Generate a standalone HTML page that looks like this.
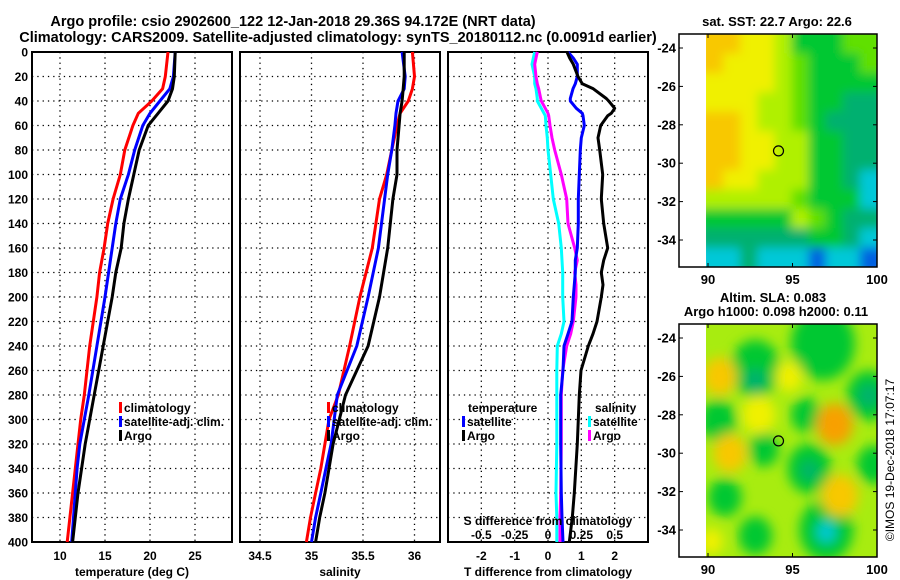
<!DOCTYPE html>
<html><head><meta charset="utf-8"><style>
html,body{margin:0;padding:0;background:#fff;}
svg{display:block;font-family:"Liberation Sans",sans-serif;font-weight:bold;}
</style></head><body>
<svg id="fig" width="900" height="580" viewBox="0 0 900 580" xmlns="http://www.w3.org/2000/svg">
<text x="293" y="26" font-size="14.5" text-anchor="middle">Argo profile: csio 2902600_122 12-Jan-2018 29.36S 94.172E (NRT data)</text>
<text x="338" y="42" font-size="14.5" text-anchor="middle">Climatology: CARS2009. Satellite-adjusted climatology: synTS_20180112.nc (0.0091d earlier)</text>
<g id="g"></g>
</svg>
<script>
// depth levels (m)
const tDepth=[0,20,30,40,50,60,80,100,120,140,160,180,200,240,280,300,320,340,360,400];
const tClim=[22.0,21.7,21.4,20.2,18.7,18.1,17.2,16.7,15.9,15.3,14.9,14.4,14.1,13.3,12.7,12.3,12.0,11.7,11.4,10.8];
const tSat=[22.8,22.6,22.2,21.1,20.0,19.2,18.3,17.6,16.7,16.2,15.8,15.4,15.0,14.1,13.2,12.7,12.2,11.9,11.7,11.3];
const tArgo=[22.8,22.7,22.5,22.0,20.9,19.8,18.8,18.2,17.6,17.1,16.8,16.2,15.8,14.8,13.8,13.3,12.8,12.4,12.0,11.4];
const sDepth=[0,20,30,40,50,60,80,100,120,160,200,240,280,300,320,340,360,380,400];
const sClim=[35.98,36.0,35.98,35.94,35.86,35.83,35.78,35.73,35.66,35.59,35.47,35.37,35.26,35.17,35.13,35.09,35.04,34.99,34.95];
const sSat=[35.88,35.91,35.90,35.84,35.82,35.81,35.78,35.74,35.71,35.65,35.55,35.44,35.25,35.22,35.19,35.14,35.09,35.04,35.0];
const sArgo=[35.90,35.90,35.89,35.88,35.86,35.85,35.83,35.83,35.79,35.74,35.66,35.55,35.33,35.27,35.21,35.17,35.13,35.08,35.04];
const dDepth=[0,5,10,20,26,30,38,40,46,50,52,60,70,80,100,120,140,160,170,180,190,200,220,230,240,260,280,320,360,380,400];
const dTSat=[0.6,0.76,0.88,0.88,0.82,0.75,0.67,0.67,0.85,1.03,1.05,1.09,1.0,0.97,0.94,0.91,0.91,0.88,0.82,0.82,0.79,0.76,0.72,0.6,0.48,0.45,0.38,0.38,0.4,0.42,0.45];
const dTArgo=[0.57,0.65,0.76,0.9,1.03,1.36,1.75,1.82,2.0,1.9,1.79,1.58,1.5,1.55,1.64,1.6,1.67,1.79,1.67,1.6,1.65,1.6,1.47,1.35,1.21,0.99,0.94,0.88,0.79,0.73,0.64];
const dSSat=[-0.1,-0.11,-0.12,-0.1,-0.1,-0.09,-0.08,-0.08,-0.05,-0.03,-0.02,-0.015,-0.005,0,0.02,0.04,0.08,0.1,0.105,0.11,0.11,0.11,0.12,0.1,0.07,0.066,0.066,0.066,0.06,0.066,0.066];
const dSArgo=[-0.08,-0.09,-0.1,-0.09,-0.08,-0.07,-0.055,-0.05,-0.02,0,0.005,0.015,0.03,0.05,0.1,0.14,0.15,0.2,0.22,0.2,0.21,0.21,0.19,0.17,0.14,0.11,0.1,0.1,0.095,0.09,0.09];
const depthTicks=[0,20,40,60,80,100,120,140,160,180,200,220,240,260,280,300,320,340,360,380,400];
const tTicks=[10,15,20,25];
const sTicks=[34.5,35,35.5,36];
const dtTicks=[-2,-1,0,1,2];
const dsTicks=[-0.5,-0.25,0,0.25,0.5];
const dsTickLabels=["-0.5","-0.25","0","0.25","0.5"];
const lonTicks=[90,95,100];
const latTicks=[-24,-26,-28,-30,-32,-34];
// SST grid (colour class 0..8), rows north->south
const sstGrid=[
[7,7,6,6,5,3,3,3,4,4],[7,6,6,6,5,4,3,3,3,4],[6,6,6,6,5,4,3,3,3,3],[6,6,6,5,5,4,3,3,2,2],
[7,7,6,5,5,4,3,2,2,2],[7,7,6,6,5,5,3,3,2,2],[7,7,6,6,5,5,3,3,2,2],[7,6,6,5,5,5,3,3,2,1],
[5,5,5,5,5,4,3,3,3,1],[3,3,3,3,3,5,4,3,2,2],[2,2,2,2,2,2,3,3,2,1],[1,1,2,1,1,1,0,1,1,0]];
const cmap=["#0060e0","#00c8d8","#00b070","#00c830","#60e000","#b0f000","#f0f000","#f8c800","#f8a000"];
// SLA blobs: lon, lat, radius(deg), colour class
const slaLon=[92.8,96.8,99.5,90.6,95.8,93.3,96.0,99.8,91.0,97.0,92.8,90.7,97.5,91.3,97.8,94.8,93.0,90.2,92.8,99.5,96.0,97.0];
const slaLat=[-25.6,-24.3,-27.0,-28.3,-28.0,-29.8,-30.8,-30.6,-32.3,-34.0,-34.3,-26.0,-28.5,-30.0,-32.2,-26.0,-28.0,-34.6,-26.2,-27.0,-30.9,-34.1];
const slaR=[1.5,1.9,1.3,1.1,0.9,0.9,1.3,1.0,1.0,1.6,1.0,1.0,1.1,1.0,1.1,0.8,1.0,0.7,0.6,0.6,0.5,0.55];
const slaCls=[3,3,3,3,3,3,3,3,3,3,3,7,8,7,7,6,6,6,2,2,2,1];

const NS="http://www.w3.org/2000/svg";
const G=document.getElementById('g');
function mk(tag,attrs,parent){const e=document.createElementNS(NS,tag);for(const k in attrs)e.setAttribute(k,attrs[k]);(parent||G).appendChild(e);return e;}
const Y0=52,Y1=542;
function yD(d){return Y0+(Y1-Y0)*d/400;}
function lin(a,b,p,q){return v=>p+(v-a)*(q-p)/(b-a);}
const panels=[
 {x0:32,x1:232,sc:lin(10,25,60,195),ticks:tTicks,name:'temperature-panel'},
 {x0:240,x1:440,sc:lin(34.5,36,260,414.5),ticks:sTicks,name:'salinity-panel'},
 {x0:448,x1:648,sc:lin(-3,3,448,648),ticks:dtTicks,name:'difference-panel'}];
panels.forEach((P,i)=>{
 const grp=mk('g',{});
 
 
 depthTicks.forEach(d=>{if(d>0&&d<400){const l=mk('line',{x1:P.x0,x2:P.x1,y1:yD(d),y2:yD(d),stroke:'#000','stroke-width':1.3,'stroke-dasharray':'1.3 4'},grp);}});
 P.ticks.forEach(t=>{const x=P.sc(t);const l=mk('line',{x1:x,x2:x,y1:Y0,y2:Y1,stroke:'#000','stroke-width':1.3,'stroke-dasharray':'1.3 4'},grp);
  const tx=mk('text',{x:x,y:560,'font-size':12,'text-anchor':'middle'},grp);tx.textContent=String(t);});
 const r=mk('rect',{x:P.x0,y:Y0,width:P.x1-P.x0,height:Y1-Y0,fill:'none',stroke:'#000','stroke-width':2},grp);
 
});
depthTicks.forEach(d=>{const t=mk('text',{x:28,y:yD(d)+4.5,'font-size':12,'text-anchor':'end'});t.textContent=String(d);
 });
function line(depths,vals,sc,color,name){
 const pts=depths.map((d,i)=>sc(vals[i]).toFixed(1)+','+yD(d).toFixed(1)).join(' ');
 const p=mk('polyline',{points:pts,fill:'none',stroke:color,'stroke-width':3,'stroke-linejoin':'round'});
 }
const sT=panels[0].sc,sS=panels[1].sc,sdT=panels[2].sc,sdS=lin(-0.75,0.75,448,648);
line(tDepth,tClim,sT,'#f00','temp-climatology-line');
line(tDepth,tSat,sT,'#00f','temp-satellite-line');
line(tDepth,tArgo,sT,'#000','temp-argo-line');
line(sDepth,sClim,sS,'#f00','sal-climatology-line');
line(sDepth,sSat,sS,'#00f','sal-satellite-line');
line(sDepth,sArgo,sS,'#000','sal-argo-line');
line(dDepth,dSSat,sdS,'#00ffff','sdiff-satellite-line');
line(dDepth,dSArgo,sdS,'#ff00ff','sdiff-argo-line');
line(dDepth,dTSat,sdT,'#00f','tdiff-satellite-line');
line(dDepth,dTArgo,sdT,'#000','tdiff-argo-line');
function txt(x,y,s,fs,anchor,name,extra){const t=mk('text',Object.assign({x:x,y:y,'font-size':fs,'text-anchor':anchor||'start'},extra||{}));t.textContent=s;
 return t;}
function legItem(x,y,color,label,name){const r=mk('rect',{x:x,y:y-10,width:3,height:11,fill:color});
 const t=txt(x+5,y,label,12,'start',name);}
legItem(119,412,'#f00','climatology','legend-climatology');
legItem(119,426,'#00f','satellite-adj. clim.','legend-satellite-adj');
legItem(119,440,'#000','Argo','legend-argo');
legItem(327,412,'#f00','climatology','legend-sal-climatology');
legItem(327,426,'#00f','satellite-adj. clim.','legend-sal-satellite-adj');
legItem(327,440,'#000','Argo','legend-sal-argo');
txt(468,412,'temperature',12,'start','legend-temperature-heading');
legItem(462,426,'#00f','satellite','legend-t-satellite');
legItem(462,440,'#000','Argo','legend-t-argo');
txt(595,412,'salinity',12,'start','legend-salinity-heading');
legItem(588,426,'#00ffff','satellite','legend-s-satellite');
legItem(588,440,'#ff00ff','Argo','legend-s-argo');
txt(548,525,'S difference from climatology',12,'middle','s-axis-title');
dsTicks.forEach((v,i)=>txt(sdS(v),539,dsTickLabels[i],12,'middle','s-tick-label'));
txt(132,576,'temperature (deg C)',12,'middle','temperature-axis-title');
txt(340,576,'salinity',12,'middle','salinity-axis-title');
txt(548,576,'T difference from climatology',12,'middle','tdiff-axis-title');
// maps
function map(top,name){
 const M={x0:679,x1:877,y0:top,y1:top+233,dx0:706};
 M.lx=lin(90,100,708,877);M.ly=lin(-24,-34,top+14,top+206);return M;}
const m1=map(34),m2=map(324);
const defs=mk('defs',{});
const f=mk('filter',{id:'bl',x:'-50%',y:'-50%',width:'200%',height:'200%'},defs);mk('feGaussianBlur',{stdDeviation:6},f);
const f1=mk('filter',{id:'bl1',x:'-10%',y:'-10%',width:'120%',height:'120%'},defs);mk('feGaussianBlur',{stdDeviation:5},f1);
const cp1=mk('clipPath',{id:'cp1'},defs);mk('rect',{x:m1.dx0,y:m1.y0,width:m1.x1-m1.dx0,height:233},cp1);
const cp=mk('clipPath',{id:'cp2'},defs);mk('rect',{x:m2.dx0,y:m2.y0,width:m2.x1-m2.dx0,height:233},cp);
const g1o=mk('g',{'clip-path':'url(#cp1)'});
const g1=mk('g',{filter:'url(#bl1)'},g1o);
const cw=(m1.x1-m1.dx0)/10,ch=(m1.y1-m1.y0)/12;
sstGrid.forEach((row,r)=>row.forEach((c,k)=>{const e=mk('rect',{x:m1.dx0+k*cw-(k==0?8:0),y:m1.y0+r*ch-(r==0?8:0),width:cw+0.5+(k==0||k==9?8:0),height:ch+0.5+(r==0||r==11?8:0),fill:cmap[c]},g1);
 }));
const g2=mk('g',{'clip-path':'url(#cp2)'});
mk('rect',{x:m2.dx0,y:m2.y0,width:m2.x1-m2.dx0,height:233,fill:'#a8ec10'},g2);
const gb=mk('g',{filter:'url(#bl)'},g2);
slaLon.forEach((lo,i)=>{const e=mk('ellipse',{cx:m2.lx(lo),cy:m2.ly(slaLat[i]),rx:slaR[i]*16.8,ry:slaR[i]*19.2,fill:cmap[slaCls[i]]},gb);
 });
[m1,m2].forEach((M,j)=>{
 const fr=mk('rect',{x:M.x0,y:M.y0,width:M.x1-M.x0,height:M.y1-M.y0,fill:'none',stroke:'#000','stroke-width':1.5});
 
 lonTicks.forEach(v=>{const x=M.lx(v);mk('line',{x1:x,x2:x,y1:M.y1,y2:M.y1-4,stroke:'#000'});mk('line',{x1:x,x2:x,y1:M.y0,y2:M.y0+4,stroke:'#000'});
  txt(x,M.y1+17,String(v),13,'middle','lon-tick-label');});
 latTicks.forEach(v=>{const y=M.ly(v);mk('line',{x1:M.x0,x2:M.x0+4,y1:y,y2:y,stroke:'#000'});mk('line',{x1:M.x1,x2:M.x1-4,y1:y,y2:y,stroke:'#000'});
  txt(676,y+4.5,String(v),13,'end','lat-tick-label');});
 const c=mk('circle',{cx:M.lx(94.172),cy:M.ly(-29.36),r:5,fill:'none',stroke:'#000','stroke-width':1.2});
 
});
txt(777,26,'sat. SST: 22.7 Argo: 22.6',13,'middle','sst-map-title');
txt(773,302,'Altim. SLA: 0.083',13,'middle','sla-map-title');
txt(776,316,'Argo h1000: 0.098 h2000: 0.11',13,'middle','sla-map-subtitle');
txt(0,0,'©IMOS 19-Dec-2018 17:07:17',12,'middle','copyright-stamp',{transform:'translate(894,460) rotate(-90)','font-weight':'normal'});
</script>
</body></html>
